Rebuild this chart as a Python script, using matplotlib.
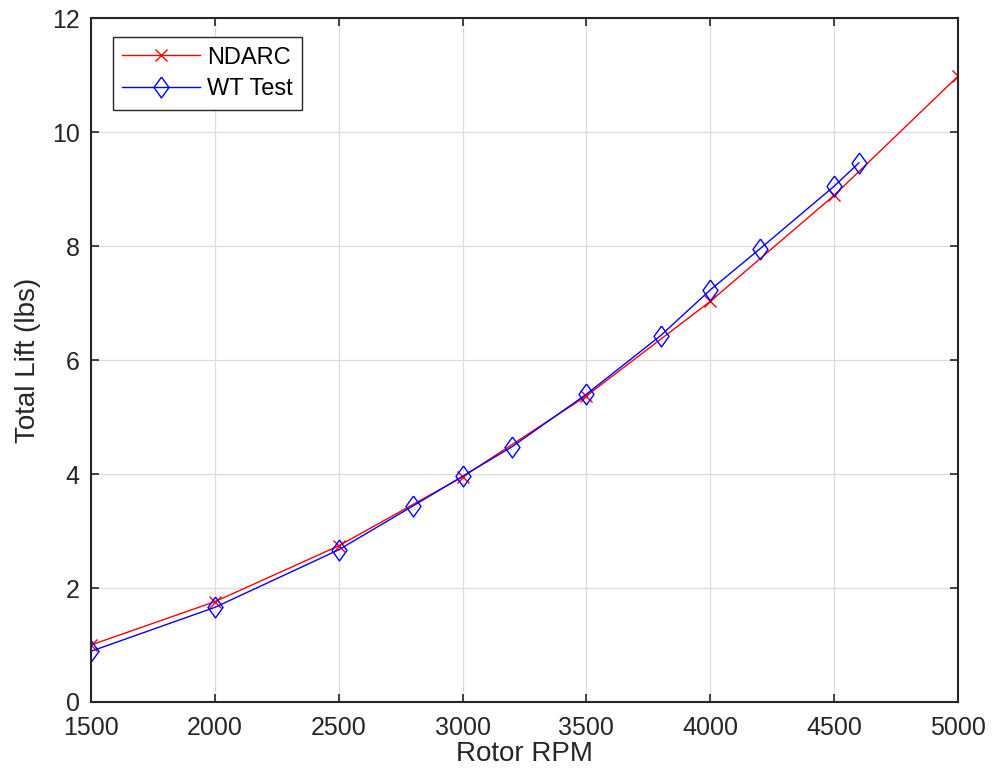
import numpy as np
import matplotlib
matplotlib.use("Agg")
import matplotlib.pyplot as plt

plt.rcParams['font.family'] = ['Liberation Sans', 'DejaVu Sans']

# NDARC prediction
ndarc_rpm = [1500, 2000, 2500, 3000, 3500, 4000, 4500, 5000]
ndarc_lift = [1.00, 1.76, 2.74, 3.95, 5.37, 7.03, 8.89, 10.98]

# wind tunnel test
wt_rpm = [1500, 2000, 2500, 2800, 3000, 3200, 3500, 3800, 4000, 4200, 4500, 4600]
wt_lift = [0.89, 1.66, 2.67, 3.44, 3.96, 4.48, 5.40, 6.43, 7.23, 7.95, 9.05, 9.46]

xticks = [1500, 2000, 2500, 3000, 3500, 4000, 4500, 5000]
yticks = [0, 2, 4, 6, 8, 10, 12]

diamond = [(0, 1), (0.72, 0), (0, -1), (-0.72, 0), (0, 1)]

fig = plt.figure(figsize=(9.93, 7.84), dpi=100)
ax = fig.add_axes([0.0916, 0.1046, 0.8732, 0.8724])

ax.plot(ndarc_rpm, ndarc_lift, color='red', lw=1.0, marker='x',
        markersize=8, markeredgewidth=1.0, label='NDARC')
ax.plot(wt_rpm, wt_lift, color='blue', lw=1.0, marker=diamond,
        markersize=15, markerfacecolor='none', markeredgecolor='blue',
        markeredgewidth=1.0, label='WT Test')

ax.set_xlim(1500, 5000)
ax.set_ylim(0, 12)
ax.set_xticks(xticks)
ax.set_yticks(yticks)
ax.grid(True, color='#dcdcdc', lw=0.9)
ax.set_axisbelow(True)
ax.tick_params(direction='in', length=6, width=1.2, labelsize=18,
               colors='#262626', top=True, right=True)
ax.tick_params(axis='x', pad=10)
ax.tick_params(axis='y', pad=8)
for s in ax.spines.values():
    s.set_color('#262626')
    s.set_linewidth(1.5)

ax.set_xlabel('Rotor RPM', fontsize=20, color='#262626', labelpad=1)
ax.set_ylabel('Total Lift (lbs)', fontsize=20, color='#262626', labelpad=8)

leg = ax.legend(loc='upper left', bbox_to_anchor=(0.025, 0.972), fontsize=17,
                fancybox=False, edgecolor='#262626', framealpha=1,
                borderaxespad=0, handlelength=3.3, borderpad=0.4,
                labelspacing=0.4, handletextpad=0.3)
leg.get_frame().set_linewidth(1.0)

fig.savefig('out.png', dpi=100)
